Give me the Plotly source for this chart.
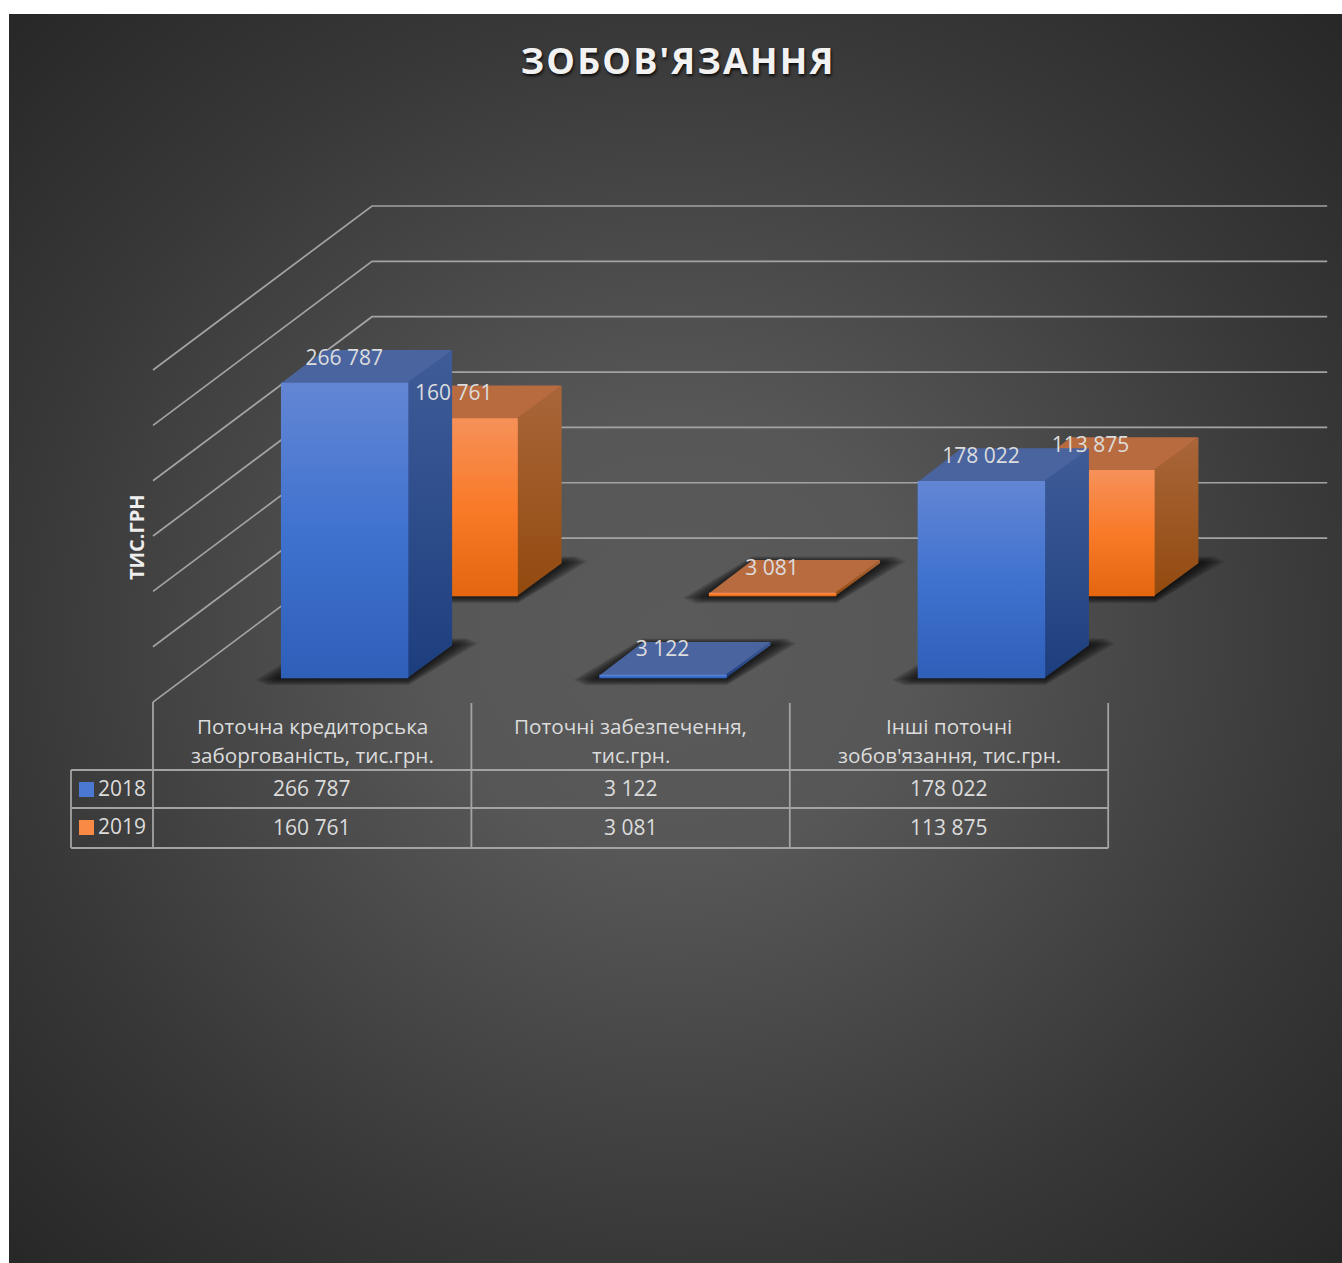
import urllib.parse
import plotly.graph_objects as go

# ---- data ----
categories = [
    ["Поточна кредиторська", "заборгованість, тис.грн."],
    ["Поточні забезпечення,", "тис.грн."],
    ["Інші поточні", "зобов'язання, тис.грн."],
]
years = ["2018", "2019"]
values_2018 = [266787, 3122, 178022]
values_2019 = [160761, 3081, 113875]
grid_values = [0, 50000, 100000, 150000, 200000, 250000, 300000]
title_text = "ЗОБОВ'ЯЗАННЯ"
axis_title = "ТИС.ГРН"

# ---- geometry of the oblique projection ----
W, H = 1342, 1263
X0_PX, Y0_PX = 153.0, 702.1
CAT_PX = 318.4
PX_PER_UNIT = 0.001107
DEPTH_DX = 219 / CAT_PX
DEPTH_DY = 164 / PX_PER_UNIT
SERIES_DEPTH = [0.146, 0.646]
BAR_DEPTH = 0.2
BAR_HALF = 0.2
BAR_CENTER = 0.5015
EPS_X = 1.2 / CAT_PX
EPS_Y = 0.8 / PX_PER_UNIT


def ux(px):
    return (px - X0_PX) / CAT_PX


def uy(px):
    return (Y0_PX - px) / PX_PER_UNIT


def py(px):
    return 1 - px / H


def project(cat_x, value, depth):
    return cat_x + depth * DEPTH_DX, value + depth * DEPTH_DY


def poly(points):
    pts = [project(*p) for p in points]
    pts.append(pts[0])
    return [p[0] for p in pts], [p[1] for p in pts]


# ---- styles ----
TEXT = "#dcdcdc"
LINE = "#a3a3a3"
FONT = "Open Sans"
STYLES = [
    dict(front=["#6386d4", "#3f72cf", "#2e5fb9"], side=["#3f5c98", "#1d3e7e"], top="#4a649f", base="#3f72cf"),
    dict(front=["#f69159", "#f97a28", "#e4660f"], side=["#a9663a", "#924a0e"], top="#b96b40", base="#f97a28"),
]

bg_svg = (
    '<svg xmlns="http://www.w3.org/2000/svg" width="1333" height="1249" preserveAspectRatio="none">'
    '<defs><radialGradient id="g" cx="0.5" cy="0.5" r="0.71">'
    '<stop offset="0" stop-color="#5a5a5a"/><stop offset="0.25" stop-color="#575757"/>'
    '<stop offset="0.7" stop-color="#383838"/><stop offset="1" stop-color="#272727"/>'
    '</radialGradient></defs><rect width="1333" height="1249" fill="url(#g)"/></svg>'
)
bg_uri = "data:image/svg+xml;charset=utf-8," + urllib.parse.quote(bg_svg)

fig = go.Figure()

# real bars (front faces) - gradient faces are laid over them below
for s, vals in enumerate([values_2019, values_2018]):
    si = 1 - s
    xs, bases = [], []
    for c in range(len(vals)):
        x, b = project(c + BAR_CENTER, 0, SERIES_DEPTH[si])
        xs.append(x)
        bases.append(b)
    fig.add_trace(go.Bar(x=xs, y=vals, base=bases, width=2 * BAR_HALF, name=years[si],
                         marker=dict(color=STYLES[si]["base"], line=dict(width=0)),
                         showlegend=False, hoverinfo="skip"))

# wall / floor gridlines
for v in grid_values:
    xs = [0, DEPTH_DX, 3 + DEPTH_DX]
    ys = [v, v + DEPTH_DY, v + DEPTH_DY]
    fig.add_trace(go.Scatter(x=xs, y=ys, mode="lines", line=dict(color=LINE, width=1.7),
                             showlegend=False, hoverinfo="skip"))

# floor shadows: soft, nested, with rounded acute corners
SHADOW_SCALES = [1.0, 0.9, 0.8, 0.7, 0.6, 0.5, 0.4, 0.3, 0.2, 0.1]
SHADOW_DX, SHADOW_DY = 26, 7
for si in [1, 0]:
    for c in range(3):
        for k in SHADOW_SCALES:
            dx, dy = k * SHADOW_DX / CAT_PX, k * SHADOW_DY / PX_PER_UNIT
            d = SERIES_DEPTH[si]
            xa, ya = project(c + BAR_CENTER - BAR_HALF, 0, d)
            xb, yb = project(c + BAR_CENTER + BAR_HALF, 0, d)
            xc, yc = project(c + BAR_CENTER + BAR_HALF, 0, d + BAR_DEPTH)
            xd, yd = project(c + BAR_CENTER - BAR_HALF, 0, d + BAR_DEPTH)
            fig.add_trace(go.Scatter(
                x=[xa - dx, xa - 0.55 * dx, xb, xb + 0.2 * dx, xc + dx, xc + 0.6 * dx, xd, xd - 0.2 * dx, xa - dx],
                y=[ya - 0.25 * dy, ya - dy, yb - dy, yb - 0.6 * dy, yc + 0.25 * dy, yc + dy, yd + dy, yd + 0.6 * dy,
                   ya - 0.25 * dy],
                mode="lines", line=dict(width=0), fill="toself",
                fillcolor="rgba(0,0,0,0.10)", showlegend=False, hoverinfo="skip"))


def grad(colors):
    n = len(colors) - 1
    return [[i / n, col] for i, col in enumerate(colors)]


# 3-D faces
for si, vals in [(1, values_2019), (0, values_2018)]:
    st = STYLES[si]
    d = SERIES_DEPTH[si]
    for c, v in enumerate(vals):
        l, r = c + BAR_CENTER - BAR_HALF, c + BAR_CENTER + BAR_HALF
        # top (runs a little under the front face so no seam shows)
        x, y = poly([(l, v - EPS_Y, d), (r, v - EPS_Y, d), (r, v, d + BAR_DEPTH), (l, v, d + BAR_DEPTH)])
        fig.add_trace(go.Scatter(x=x, y=y, mode="lines", line=dict(width=0), fill="toself",
                                 fillcolor=st["top"], showlegend=False, hoverinfo="skip"))
        # side (same, under the front face)
        x, y = poly([(r - EPS_X, 0, d), (r, 0, d + BAR_DEPTH), (r, v, d + BAR_DEPTH), (r - EPS_X, v, d)])
        fig.add_trace(go.Scatter(x=x, y=y, mode="lines", line=dict(width=0), fill="toself",
                                 fillgradient=dict(type="vertical", colorscale=grad(st["side"][::-1])),
                                 showlegend=False, hoverinfo="skip"))
        # front
        x, y = poly([(l, 0, d), (r, 0, d), (r, v, d), (l, v, d)])
        fig.add_trace(go.Scatter(x=x, y=y, mode="lines", line=dict(width=0), fill="toself",
                                 fillgradient=dict(type="vertical", colorscale=grad(st["front"][::-1])),
                                 showlegend=False, hoverinfo="skip"))


def fmt(v):
    return f"{v:,}".replace(",", " ")


# value labels on the bar tops
LABEL_SHIFT = 23.5 / PX_PER_UNIT
for si, vals in [(1, values_2019), (0, values_2018)]:
    xs, ys = [], []
    for c, v in enumerate(vals):
        x, y = project(c + 0.5, v, SERIES_DEPTH[si])
        xs.append(x)
        ys.append(y + LABEL_SHIFT)
    fig.add_trace(go.Scatter(x=xs, y=ys, mode="text", text=[fmt(v) for v in vals],
                             textposition="middle center",
                             textfont=dict(family=FONT, size=21, color=TEXT),
                             showlegend=False, hoverinfo="skip"))

CENTER = dict(xanchor="center", yanchor="middle", showarrow=False, yref="paper")
annotations = [
    dict(text=title_text, x=678.5 / W, y=py(61), xref="paper", **CENTER,
         font=dict(family=FONT, size=36, color="#f2f2f2", weight=700, shadow="1px 2px 3px rgba(0,0,0,0.8)")),
    dict(text=axis_title, x=136 / W, y=py(537), xref="paper", textangle=-90, **CENTER,
         font=dict(family=FONT, size=20, color="#eeeeee", weight=700)),
]
for c, lines in enumerate(categories):
    for line, yp in zip(lines, (726, 755)):
        annotations.append(dict(text=line, x=c + 0.5, y=py(yp), xref="x", **CENTER,
                                font=dict(family=FONT, size=20.7, color=TEXT)))
for vals, yp in zip((values_2018, values_2019), (788, 827)):
    for c, v in enumerate(vals):
        annotations.append(dict(text=fmt(v), x=c + 0.5, y=py(yp), xref="x", **CENTER,
                                font=dict(family=FONT, size=21, color=TEXT)))
for yr, yp in zip(years, (788, 826)):
    annotations.append(dict(text=yr, x=122 / W, y=py(yp), xref="paper", **CENTER,
                            font=dict(family=FONT, size=21, color=TEXT)))

shapes = []
for c in range(4):
    shapes.append(dict(type="line", xref="x", yref="paper", x0=c, x1=c, y0=py(702 if c == 0 else 703), y1=py(848),
                       line=dict(color=LINE, width=1.8)))
for yp in (770, 808, 848):
    shapes.append(dict(type="line", xref="x", yref="paper", x0=ux(71), x1=3, y0=py(yp), y1=py(yp),
                       line=dict(color=LINE, width=1.8)))
shapes.append(dict(type="line", xref="x", yref="paper", x0=ux(71), x1=ux(71), y0=py(770), y1=py(848),
                   line=dict(color=LINE, width=1.8)))
for yt, col in zip((782, 820), ("#4a78d2", "#f98a45")):
    shapes.append(dict(type="rect", xref="paper", yref="paper", x0=79 / W, x1=94 / W, y0=py(yt), y1=py(yt + 15),
                       fillcolor=col, line=dict(width=0)))

fig.update_layout(
    width=W, height=H, margin=dict(l=0, r=0, t=0, b=0), autosize=False,
    paper_bgcolor="#ffffff", plot_bgcolor="rgba(0,0,0,0)",
    barmode="overlay", showlegend=False, font=dict(family=FONT, color=TEXT),
    xaxis=dict(range=[ux(0), ux(W)], visible=False, fixedrange=True),
    yaxis=dict(range=[uy(H), uy(0)], visible=False, fixedrange=True),
    annotations=annotations, shapes=shapes,
    images=[dict(source=bg_uri, xref="paper", yref="paper", x=9 / W, y=py(14), sizex=1333 / W, sizey=1249 / H,
                 sizing="stretch", xanchor="left", yanchor="top", layer="below")],
)

post = """
document.body.style.margin='0';document.body.style.overflow='hidden';
document.querySelectorAll('.annotation-text').forEach(function(t){
  if(t.textContent.indexOf('ЗОБОВ')===0){t.style.letterSpacing='2.2px';}
});
"""
fig.write_html("out.html", post_script=post, config=dict(displayModeBar=False))
